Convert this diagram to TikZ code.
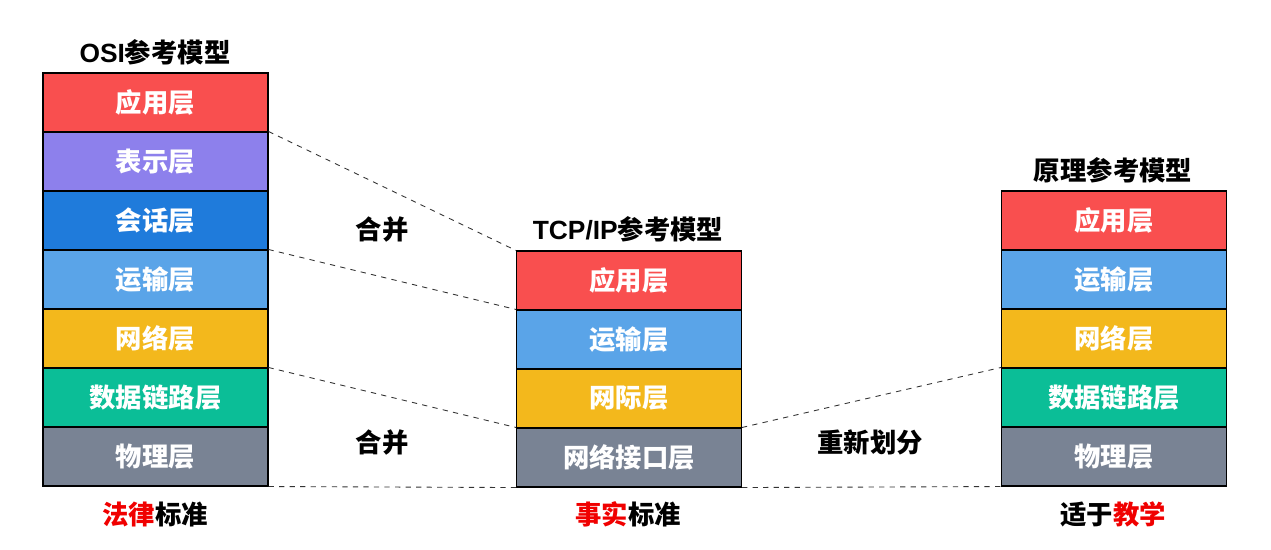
\documentclass[tikz,border=0pt]{standalone}
\usepackage{fontspec}
\setmainfont{Noto Sans CJK SC}
\newfontfamily\lat{Liberation Sans}
\usepackage{xcolor}
\usepackage{tikz}
\usetikzlibrary{positioning,calc}

\definecolor{cRed}{HTML}{F94F4F}
\definecolor{cPurple}{HTML}{8D80EC}
\definecolor{cDark}{HTML}{1F7BDB}
\definecolor{cBlue}{HTML}{5AA4E8}
\definecolor{cYellow}{HTML}{F3B81C}
\definecolor{cGreen}{HTML}{0BBE97}
\definecolor{cGray}{HTML}{798394}
\definecolor{cLaw}{HTML}{F00000}

\begin{document}
\begin{tikzpicture}[x=0.02cm,y=-0.02cm,
  layer/.style={draw=black,line width=0.6pt,minimum width=4.5cm,minimum height=1.18cm,inner sep=0pt,font=\fontsize{15}{17}\selectfont\bfseries,text=white},
  title/.style={font=\fontsize{15}{17}\selectfont\bfseries},
  lnk/.style={dashed,line width=0.5pt,black!80}
]
  \useasboundingbox (0,0) rectangle (1271,549);
  % OSI
  \node[title] (ot) at (155,52) {{\lat\bfseries OSI}参考模型};
  \node[layer,fill=cRed]    (o1) at (155.5,102.5) {应用层};
  \node[layer,fill=cPurple] (o2) at (155.5,161.5) {表示层};
  \node[layer,fill=cDark]   (o3) at (155.5,220.5) {会话层};
  \node[layer,fill=cBlue]   (o4) at (155.5,279.5) {运输层};
  \node[layer,fill=cYellow] (o5) at (155.5,338.5) {网络层};
  \node[layer,fill=cGreen]  (o6) at (155.5,397.5) {数据链路层};
  \node[layer,fill=cGray]   (o7) at (155.5,456.5) {物理层};
  \node[title] (ob) at (155,514) {\textcolor{cLaw}{法律}标准};
  % TCP/IP
  \node[title] (tt) at (628,229) {{\lat\bfseries TCP/IP}参考模型};
  \node[layer,fill=cRed]    (t1) at (629,280.5) {应用层};
  \node[layer,fill=cBlue]   (t2) at (629,339.5) {运输层};
  \node[layer,fill=cYellow] (t3) at (629,398.5) {网际层};
  \node[layer,fill=cGray]   (t4) at (629,457.5) {网络接口层};
  \node[title] (tb) at (628,514) {\textcolor{cLaw}{事实}标准};
  % principle
  \node[title] (pt) at (1113,170) {原理参考模型};
  \node[layer,fill=cRed]    (p1) at (1114,220.5) {应用层};
  \node[layer,fill=cBlue]   (p2) at (1114,279.5) {运输层};
  \node[layer,fill=cYellow] (p3) at (1114,338.5) {网络层};
  \node[layer,fill=cGreen]  (p4) at (1114,397.5) {数据链路层};
  \node[layer,fill=cGray]   (p5) at (1114,456.5) {物理层};
  \node[title] (pb) at (1113,514) {适于\textcolor{cLaw}{教学}};
  % labels
  \node[title] (m1) at (382,230) {合并};
  \node[title] (m2) at (382,442) {合并};
  \node[title] (m3) at (870,442) {重新划分};
  % dashed links
  \draw[lnk] (o2.north east) -- (t1.north west);
  \draw[lnk] (o4.north east) -- (t2.north west);
  \draw[lnk] (o6.north east) -- (t4.north west);
  \draw[lnk] (o7.south east) -- (t4.south west);
  \draw[lnk] (t4.north east) -- (p4.north west);
  \draw[lnk] (t4.south east) -- (p5.south west);
\end{tikzpicture}
\end{document}
